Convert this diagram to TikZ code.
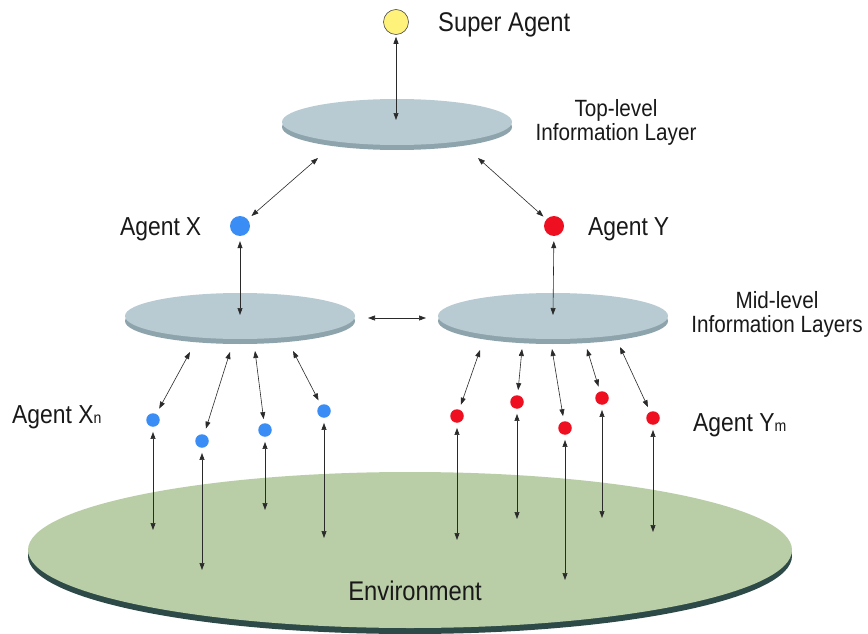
\documentclass[tikz,border=0pt]{standalone}
\usepackage{fontspec}
\setmainfont{Liberation Sans}[FakeStretch=0.88]
\usetikzlibrary{arrows.meta}
\definecolor{diskTop}{HTML}{B8CBD3}
\definecolor{diskRim}{HTML}{8EA4AD}
\definecolor{envTop}{HTML}{B9CEA7}
\definecolor{envRim}{HTML}{2E4A48}
\definecolor{agYellow}{HTML}{FFF27A}
\definecolor{agBlue}{HTML}{3A8DF4}
\definecolor{agRed}{HTML}{EE1020}
\definecolor{lineC}{HTML}{2A2A2A}
\begin{document}
\begin{tikzpicture}[x=1pt,y=-1pt,
  link/.style={draw=lineC, line width=0.6pt,
    {Triangle[length=7pt,width=5pt]}-{Triangle[length=7pt,width=5pt]}},
  gapa/.style={shorten <=#1},
  gapb/.style={shorten >=#1},
  superag/.style={circle, draw=black!70, line width=0.6pt, fill=agYellow, minimum size=25pt, inner sep=0pt},
  bigag/.style={circle, minimum size=20pt, inner sep=0pt, fill=#1},
  smallag/.style={circle, minimum size=13.5pt, inner sep=0pt, fill=#1},
  bigtxt/.style={font=\fontsize{27}{30}\selectfont, inner sep=0pt, anchor=base west, text=black!90},
  agtxt/.style={font=\fontsize{26}{30}\selectfont, inner sep=0pt, anchor=base west, text=black!90},
  laytxt/.style={font=\fontsize{23.5}{24.5}\selectfont, inner sep=0pt, anchor=north, align=center, text=black!90},
  layer disk/.pic={
    \fill[diskRim] (0,5) ellipse[x radius=115pt, y radius=23pt];
    \fill[diskTop] (0,0) ellipse[x radius=115pt, y radius=23pt];
  }
]
\useasboundingbox (0,0) rectangle (868,634);
\fill[white] (0,0) rectangle (868,634);

% environment
\fill[envRim] (410,556) ellipse[x radius=382pt, y radius=78pt];
\fill[envTop] (410,550) ellipse[x radius=382pt, y radius=78pt];
\node[bigtxt, anchor=base] (envlbl) at (415,600) {Environment};

% information layers
\pic at (397,122) {layer disk};
\pic at (240,316) {layer disk};
\pic at (553,316) {layer disk};

% agents
\node[superag] (sa) at (396,22) {};
\node[bigag=agBlue] (ax) at (240,226) {};
\node[bigag=agRed] (ay) at (554,226) {};

\node[smallag=agBlue] (xs1) at (153,420) {};
\node[smallag=agBlue] (xs2) at (202,441) {};
\node[smallag=agBlue] (xs3) at (265,430) {};
\node[smallag=agBlue] (xs4) at (324,411) {};

\node[smallag=agRed] (ys1) at (457,416) {};
\node[smallag=agRed] (ys2) at (517,402) {};
\node[smallag=agRed] (ys3) at (565,428) {};
\node[smallag=agRed] (ys4) at (602,398) {};
\node[smallag=agRed] (ys5) at (653,418) {};

% labels
\node[bigtxt] (salbl) at (438,32) {Super Agent};
\node[agtxt] (axlbl) at (120,235) {Agent\hspace{6pt}X};
\node[agtxt] (aylbl) at (588,235) {Agent\hspace{6pt}Y};
\node[agtxt] (xnlbl) at (12,423) {Agent X{\fontsize{16}{16}\selectfont n}};
\node[agtxt] (ymlbl) at (693,431) {Agent Y{\fontsize{16}{16}\selectfont m}};
\node[laytxt] (toplbl) at (616,99) {Top-level\\Information Layer};
\node[laytxt] (midlbl) at (777,291) {Mid-level\\Information Layers};

% connection points on layers
\coordinate (topc) at (396,120);
\coordinate (tl) at (318,158);
\coordinate (tr) at (478,158);
\coordinate (mlc) at (240,315);
\coordinate (mrc) at (553,315);
\coordinate (mlr) at (368,318);
\coordinate (mrl) at (426,318);
\coordinate (lx1) at (190,352);
\coordinate (lx2) at (230,352);
\coordinate (lx3) at (255,351);
\coordinate (lx4) at (293,351);
\coordinate (ry1) at (480,350);
\coordinate (ry2) at (522,349);
\coordinate (ry3) at (552,349);
\coordinate (ry4) at (587,349);
\coordinate (ry5) at (620,347);
% connection points in environment
\coordinate (e1) at (153,530);
\coordinate (e2) at (202,570);
\coordinate (e3) at (265,510);
\coordinate (e4) at (324,538);
\coordinate (e5) at (457,540);
\coordinate (e6) at (517,519);
\coordinate (e7) at (565,580);
\coordinate (e8) at (602,518);
\coordinate (e9) at (653,532);

% connectors
\draw[link, gapa=2pt] (sa) -- (topc);
\draw[link, gapb=5pt] (tl) -- (ax);
\draw[link, gapb=4pt] (tr) -- (ay);
\draw[link, gapa=5pt] (ax) -- (mlc);
\draw[link, gapa=5pt] (ay) -- (mrc);
\draw[link] (mlr) -- (mrl);

\draw[link, gapb=6pt] (lx1) -- (xs1);
\draw[link, gapb=6pt] (lx2) -- (xs2);
\draw[link, gapb=4pt] (lx3) -- (xs3);
\draw[link, gapb=5pt] (lx4) -- (xs4);

\draw[link, gapb=5pt] (ry1) -- (ys1);
\draw[link, gapb=5pt] (ry2) -- (ys2);
\draw[link, gapb=5pt] (ry3) -- (ys3);
\draw[link, gapb=5pt] (ry4) -- (ys4);
\draw[link, gapb=5pt] (ry5) -- (ys5);

\draw[link, gapa=5pt] (xs1) -- (e1);
\draw[link, gapa=5pt] (xs2) -- (e2);
\draw[link, gapa=5pt] (xs3) -- (e3);
\draw[link, gapa=5pt] (xs4) -- (e4);
\draw[link, gapa=5pt] (ys1) -- (e5);
\draw[link, gapa=5pt] (ys2) -- (e6);
\draw[link, gapa=5pt] (ys3) -- (e7);
\draw[link, gapa=5pt] (ys4) -- (e8);
\draw[link, gapa=5pt] (ys5) -- (e9);
\end{tikzpicture}
\end{document}
